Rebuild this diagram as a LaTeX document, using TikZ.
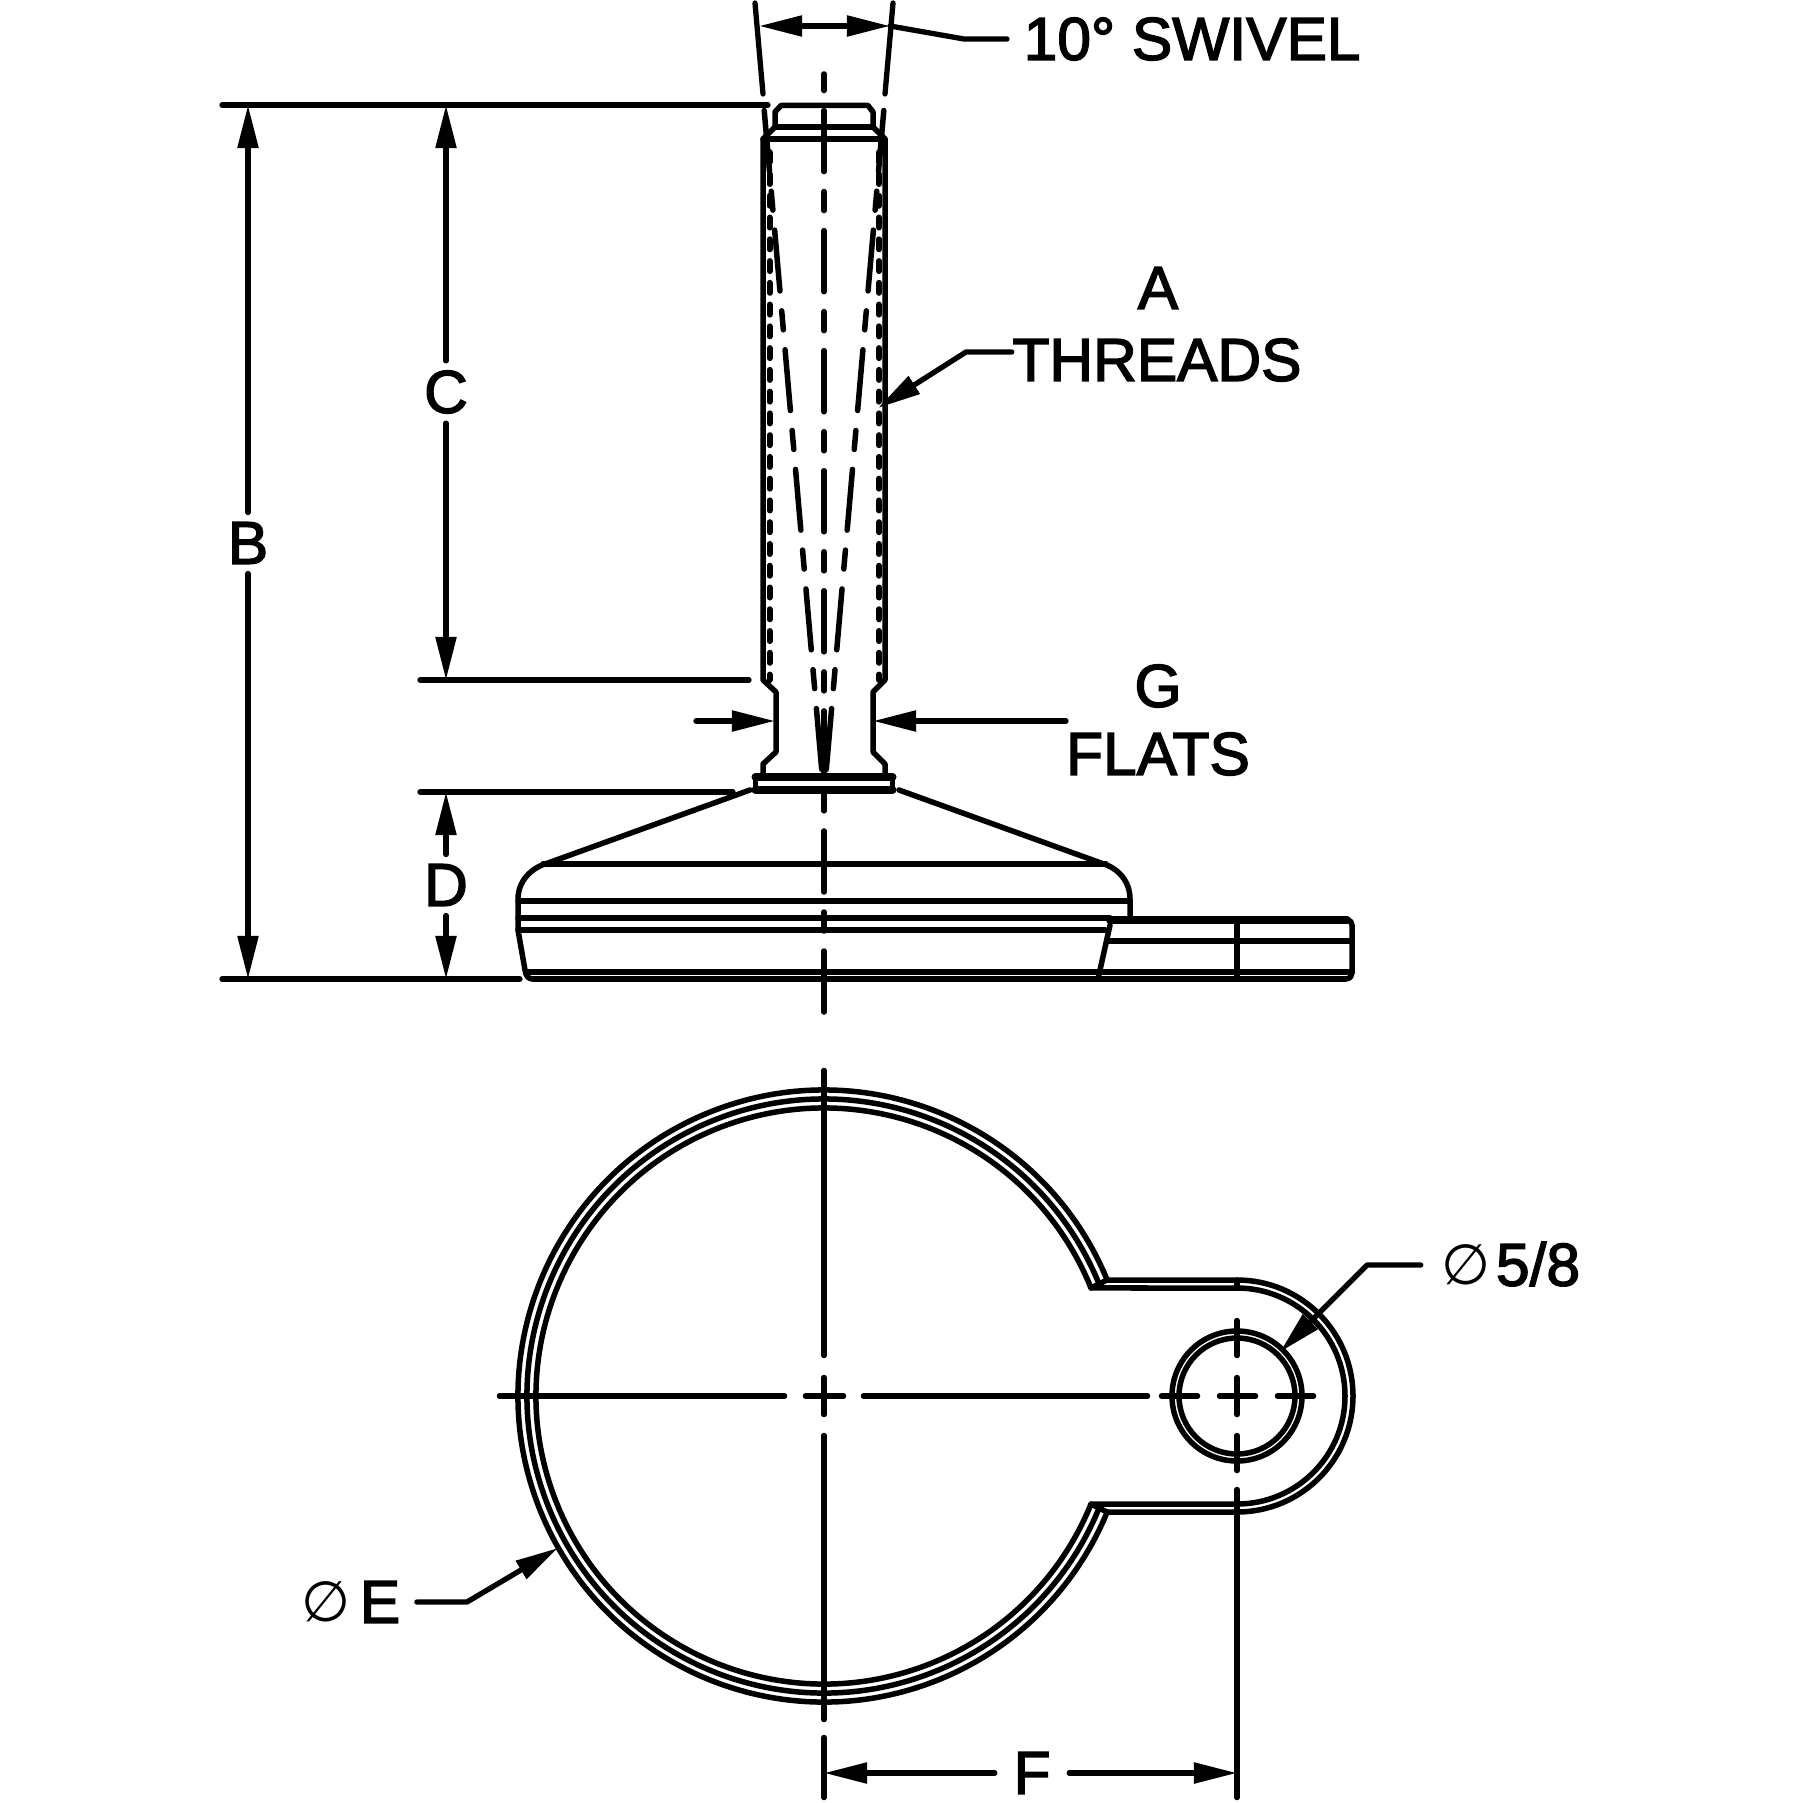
\documentclass[tikz,border=0pt]{standalone}
\usepackage{fontspec}
\usepackage{tikz}
\usetikzlibrary{arrows.meta}
\setmainfont{Liberation Sans}[FakeBold=2.4]
\newfontfamily\diafont{DejaVu Sans}
\newcommand{\bolddia}{{\diafont\fontsize{16pt}{20pt}\selectfont ∅}}

\tikzset{
    part/.style={line width=.055cm, line join=round, line cap=round},
    heavy/.style={line width=.08cm, line cap=round},
    axisln/.style={line width=.055cm, line cap=round},
    axisdash/.style={axisln, dash pattern=on .61cm off .2cm on .19cm off .2cm},
    threadln/.style={line width=.06cm, line cap=round, dash pattern=on .1cm off .1175cm},
    dimline/.style={line width=.053cm, line cap=round, line join=round},
    dimtip/.style={dimline, -{Triangle[length=.43cm, width=.2cm]}},
    dimboth/.style={dimline, {Triangle[length=.43cm, width=.2cm]}-{Triangle[length=.43cm, width=.2cm]}},
    lbl/.style={font=\fontsize{17.2pt}{20pt}\selectfont, inner sep=.09cm},
}

\begin{document}
\begin{tikzpicture}[x=.01cm, y=-.01cm]
    \useasboundingbox (0, 0) rectangle (1803, 1803);

    % stem
    \draw[part] (775, 127) -- (775, 112) -- (781, 105.5) -- (868, 105.5) -- (873, 112) -- (873, 127);
    \draw[part] (775, 127) -- (873, 127);
    \draw[part] (763, 139) -- (885, 139);
    \draw[part] (775, 127) -- (763, 139) -- (763, 680) -- (776, 692) -- (776, 752) -- (763, 764) -- (763, 775);
    \draw[part] (873, 127) -- (885, 139) -- (885, 680) -- (873, 692) -- (873, 752) -- (885, 764) -- (885, 775);
    \draw[threadln] (769.5, 152.25) -- (769.5, 680);
    \draw[threadln] (879, 152.25) -- (879, 680);

    % flange
    \draw[heavy] (755.5, 777) -- (892.5, 777);
    \draw[heavy] (755.5, 790) -- (892.5, 790);
    \draw[part] (755.5, 777) -- (755.5, 790);
    \draw[part] (892.5, 777) -- (892.5, 790);

    % foot
    \draw[part] (750, 790) -- (548, 863) .. controls (530, 868) and (518, 882) .. (518, 899) -- (518, 930) -- (525, 970) .. controls (526, 976) and (528, 979) .. (533, 979);
    \draw[part] (899, 790) -- (1101, 863) .. controls (1119, 868) and (1130, 882) .. (1130, 899) -- (1130, 917);
    \draw[part] (543, 864) -- (1106, 864);
    \draw[part] (518, 901) -- (1130, 901);
    \draw[part] (518, 918) -- (1110, 918);
    \draw[part] (518, 930) -- (1105, 930);
    \draw[part] (527, 972) -- (1352, 972);
    \draw[part] (533, 979) -- (1345, 979);

    % lug, side view
    \draw[heavy] (1110, 920) -- (1347, 920);
    \draw[part] (1347, 920) .. controls (1350, 920) and (1352, 922) .. (1352, 925) -- (1352, 973) .. controls (1352, 976) and (1350, 979) .. (1345, 979);
    \draw[part] (1110, 925) -- (1098, 979);
    \draw[part] (1109, 941) -- (1352, 941);
    \draw[part] (1237, 920) -- (1237, 979);

    % top view
    \coordinate (cenbig) at (824, 1396);
    \coordinate (cenhole) at (1237, 1396);
    \draw[part] (cenbig) ++(-22.28:306) arc[start angle=-22.28, end angle=-337.72, radius=306] -- (1237, 1512) arc[start angle=90, end angle=-90, radius=116] -- cycle;
    \draw[part] (cenbig) ++(-22.03:288) arc[start angle=-22.03, end angle=-337.97, radius=288] -- (1237, 1504) arc[start angle=90, end angle=-90, radius=108] -- cycle;
    \draw[part] (cenbig) ++(-22.16:297) arc[start angle=-22.16, end angle=-337.84, radius=297];
    \draw[part] (1091, 1288) -- (1107, 1280);
    \draw[part] (1091, 1504) -- (1107, 1512);
    \draw[part] (1237, 1280) -- (1237, 1288);
    \draw[part] (cenhole) circle (65);
    \draw[part] (cenhole) circle (58);

    % center lines
    \draw[axisdash, dash phase=.835cm] (824, 74) -- (824, 1012.5);
    \draw[axisdash, dash phase=0cm] (764.2, 110.5) -- (821.8, 770.5);
    \draw[axisdash, dash phase=0cm] (883.8, 110.5) -- (826.2, 770.5);

    \draw[axisln] (824, 1070.5) -- (824, 1355.5);
    \draw[axisln] (824, 1377.5) -- (824, 1414.5);
    \draw[axisln] (824, 1435.5) -- (824, 1719.5);
    \draw[axisln] (824, 1737.5) -- (824, 1797.5);
    \draw[axisln] (499.5, 1396) -- (784.5, 1396);
    \draw[axisln] (805.5, 1396) -- (843.5, 1396);
    \draw[axisln] (863.5, 1396) -- (1147.5, 1396);
    \draw[axisln] (1161.5, 1396) -- (1197.5, 1396);
    \draw[axisln] (1219.5, 1396) -- (1255.5, 1396);
    \draw[axisln] (1277.5, 1396) -- (1313.5, 1396);
    \draw[axisln] (1237, 1320.5) -- (1237, 1355.5);
    \draw[axisln] (1237, 1377.5) -- (1237, 1414.5);
    \draw[axisln] (1237, 1435.5) -- (1237, 1470.5);
    \draw[axisln] (1237, 1489.5) -- (1237, 1797.5);

    % labels
    \node[lbl] at (248, 543) (labb) {B};
    \node[lbl] at (446, 392) (labc) {C};
    \node[lbl] at (446, 885) (labd) {D};
    \node[lbl, inner sep=.18cm] at (1032, 1773) (labf) {F};
    \node[lbl] at (1158, 288) {A};
    \node[lbl, inner sep=0pt] at (1157, 360) (labthreads) {THREADS};
    \node[lbl] at (1158, 686) {G};
    \node[lbl] at (1158, 754) {FLATS};
    \node[lbl, anchor=west, inner sep=.16cm] at (1007, 39) (labswivel) {10° SWIVEL};
    \node[lbl] at (1538, 1264) (lab58) {5/8};
    \node[lbl, inner sep=.2cm] at (1466, 1265) (dia58) {\bolddia};
    \node[lbl, inner sep=.16cm] at (380, 1602) (labe) {E};
    \node[lbl] at (326, 1602) (diae) {\bolddia};

    % extension lines
    \coordinate (btop) at (248, 105);
    \coordinate (bbot) at (248, 979);
    \coordinate (ctop) at (446, 105);
    \coordinate (cbot) at (446, 680);
    \coordinate (dtop) at (446, 792);
    \coordinate (dbot) at (446, 979);
    \draw[dimline] (222, 105) -- (768, 105);
    \draw[dimline] (222, 979) -- (520, 979);
    \draw[dimline] (420, 680) -- (749, 680);
    \draw[dimline] (420, 792) -- (733, 792);
    \draw[dimline] (755, 3) -- (763, 94);
    \draw[dimline] (893, 3) -- (885, 94);

    % dimensions
    \draw[dimtip] (labb) edge (btop);
    \draw[dimtip] (labb) edge (bbot);
    \draw[dimtip] (labc) edge (ctop);
    \draw[dimtip] (labc) edge (cbot);
    \draw[dimtip] (labd) edge (dtop);
    \draw[dimtip] (labd) edge (dbot);
    \draw[dimtip] (labf) edge (824, 1773);
    \draw[dimtip] (labf) edge (1237, 1773);

    % swivel
    \coordinate (swl) at (759, 26);
    \coordinate (swr) at (890, 26);
    \coordinate (swbend) at (964, 39);
    \draw[dimboth] (swl) -- (swr);
    \draw[dimline] (swr) -- (swbend) -- (labswivel);

    % flats
    \coordinate (flatl) at (775, 721);
    \coordinate (flatr) at (873, 721);
    \draw[dimtip] (696, 721) -- (flatl);
    \draw[dimtip] (1066, 721) -- (flatr);

    % leaders
    \coordinate (thrbend) at (966, 352);
    \coordinate (thrtip) at (878, 408);
    \draw[dimtip] (labthreads.west |- thrbend) -- (thrbend) -- (thrtip);
    \coordinate (bend58) at (1367, 1265);
    \coordinate (tip58) at (1280, 1352);
    \draw[dimtip] (dia58) -- (bend58) -- (tip58);
    \coordinate (bende) at (467, 1602);
    \coordinate (tipe) at (558, 1548);
    \draw[dimtip] (labe) -- (bende) -- (tipe);
\end{tikzpicture}
\end{document}
